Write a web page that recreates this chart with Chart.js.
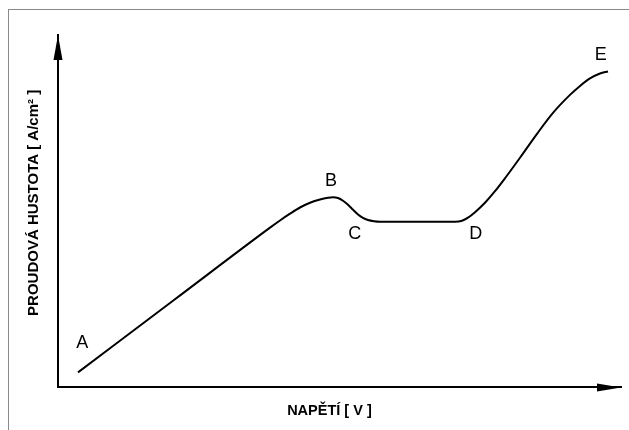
<!DOCTYPE html>
<html>
<head>
<meta charset="utf-8">
<script src="https://cdn.jsdelivr.net/npm/chart.js@4"></script>
<style>
  html, body { margin: 0; padding: 0; background: #fff; }
  #wrap { position: relative; width: 629px; height: 430px; overflow: hidden; }
  #frame { position: absolute; left: 8px; top: 9px; right: -2px; bottom: -2px;
           border-top: 1px solid #8a8a8a; border-left: 1px solid #8a8a8a; }
  canvas { position: absolute; left: 0; top: 0; }
</style>
</head>
<body>
<div id="wrap">
  <div id="frame"></div>
  <canvas id="c" width="629" height="430"></canvas>
</div>
<script>
// Voltage (x) and current density (y), arbitrary units 0..100
const voltage = [3.55, 20.60, 37.66, 39.43, 41.21, 42.98, 44.76, 46.54, 47.96, 48.85, 49.73, 50.62, 51.51, 52.40, 53.29, 54.17, 55.06, 56.13, 57.19, 63.94, 70.52, 71.76, 72.82, 74.07, 75.84, 77.62, 79.40, 82.06, 85.08, 87.92, 90.94, 92.72, 94.49, 96.27, 97.69];
const current = [4.25, 24.79, 45.33, 47.37, 49.29, 51.05, 52.41, 53.34, 53.82, 53.97, 53.74, 52.97, 51.84, 50.42, 49.07, 48.10, 47.51, 47.17, 47.03, 47.03, 47.03, 47.31, 48.16, 49.72, 52.41, 55.67, 59.35, 65.16, 71.95, 77.90, 83.00, 85.55, 87.68, 89.09, 89.66];

// Point labels
const pointNames = ['A', 'B', 'C', 'D', 'E'];
const pointX = [4.3, 48.5, 52.7, 74.2, 96.4];
const pointY = [13.0, 58.9, 43.9, 43.9, 94.5];

const xTitle = 'NAPĚTÍ [ V ]';
const yTitle = 'PROUDOVÁ HUSTOTA [ A/cm² ]';

const FONT = '"Liberation Sans", Arial, sans-serif';

const decor = {
  id: 'decor',
  afterDraw(chart) {
    const {ctx, chartArea: a, scales: {x, y}} = chart;
    ctx.save();
    ctx.fillStyle = '#000';
    // y-axis arrowhead
    ctx.beginPath();
    ctx.moveTo(a.left, a.top);
    ctx.lineTo(a.left - 4.5, a.top + 25);
    ctx.lineTo(a.left + 4.5, a.top + 25);
    ctx.closePath();
    ctx.fill();
    // x-axis arrowhead
    ctx.beginPath();
    ctx.moveTo(a.right, a.bottom);
    ctx.lineTo(a.right - 24, a.bottom - 4);
    ctx.lineTo(a.right - 24, a.bottom + 4);
    ctx.closePath();
    ctx.fill();
    // point letters
    ctx.font = '18px ' + FONT;
    ctx.textAlign = 'center';
    ctx.textBaseline = 'middle';
    pointNames.forEach((n, i) => {
      ctx.fillText(n, x.getPixelForValue(pointX[i]), y.getPixelForValue(pointY[i]) + 1);
    });
    ctx.restore();
  }
};

new Chart(document.getElementById('c'), {
  type: 'line',
  data: {
    datasets: [{
      data: voltage.map((v, i) => ({x: v, y: current[i]})),
      borderColor: '#000',
      borderWidth: 2,
      pointRadius: 0,
      fill: false,
      cubicInterpolationMode: 'monotone'
    }]
  },
  options: {
    responsive: false,
    animation: false,
    events: [],
    layout: { padding: { left: 8, right: 8, top: 35, bottom: 4 } },
    plugins: { legend: { display: false }, tooltip: { enabled: false } },
    scales: {
      x: {
        type: 'linear', min: 0, max: 100,
        grid: { display: false, drawTicks: false },
        ticks: { display: false },
        border: { display: true, color: '#000', width: 2 },
        title: {
          display: true, text: xTitle + '     ', color: '#000',
          font: { family: FONT, size: 14.5, weight: 'bold' },
          padding: { top: 14.6, bottom: 6.6 }
        }
      },
      y: {
        type: 'linear', min: 0, max: 100,
        grid: { display: false, drawTicks: false },
        ticks: { display: false },
        border: { display: true, color: '#000', width: 2 },
        title: {
          display: true, text: '    ' + yTitle, color: '#000',
          font: { family: FONT, size: 15, weight: 'bold' },
          padding: { top: 17, bottom: 15 }
        }
      }
    }
  },
  plugins: [decor]
});
</script>
</body>
</html>
